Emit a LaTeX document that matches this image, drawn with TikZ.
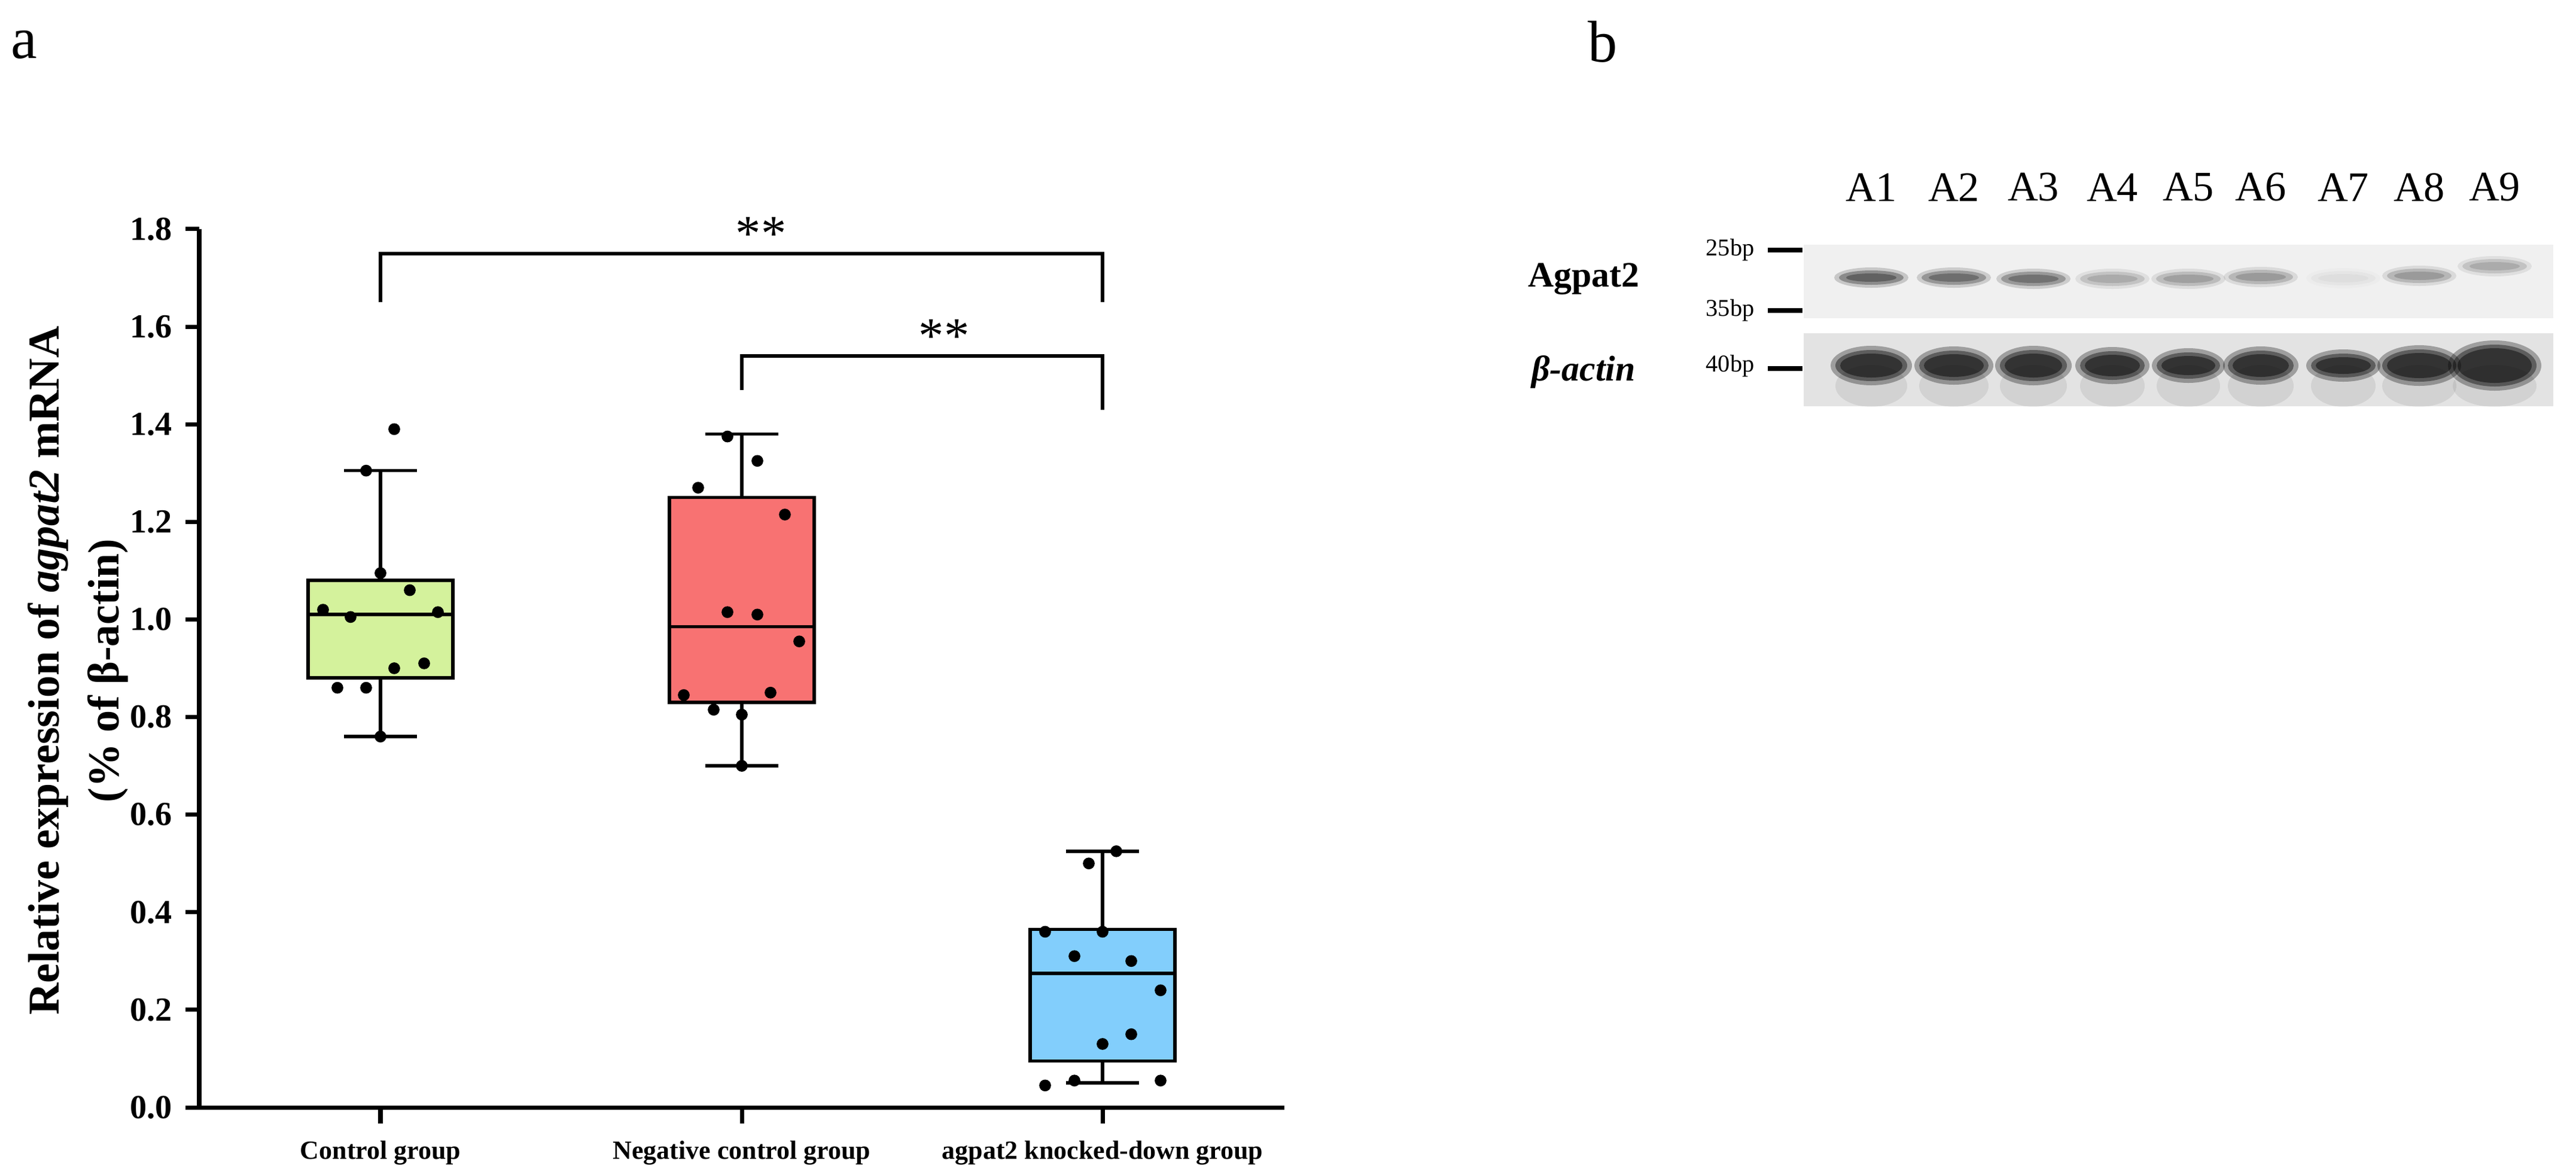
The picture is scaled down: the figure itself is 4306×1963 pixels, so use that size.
\documentclass[tikz,border=0pt]{standalone}
\usepackage{fontspec}
\setmainfont{Liberation Serif}
\definecolor{cg}{HTML}{D4F29C}
\definecolor{cr}{HTML}{F87272}
\definecolor{cb}{HTML}{82CEFC}
\begin{document}
\begin{tikzpicture}[x=0.01cm,y=-0.01cm,
  ax/.style={line width=2pt},
  bx/.style={line width=1.6pt,draw=black},
  dot/.style={circle,fill=black,inner sep=0pt,minimum size=5.6pt},
  tl/.style={anchor=east,font=\bfseries\fontsize{16}{16}\selectfont},
  gl/.style={anchor=north,font=\bfseries\fontsize{12.5}{12.5}\selectfont},
  ln/.style={font=\fontsize{20}{20}\selectfont},
  mk/.style={anchor=east,font=\fontsize{11.5}{11.5}\selectfont}]
\useasboundingbox (0,0) rectangle (4306,1963);
\def\Y#1{{1851-815.6*#1}}
\node[font=\fontsize{28}{28}\selectfont] (la) at (40,75) {a};
\node[font=\fontsize{28}{28}\selectfont] (lb) at (2679,70) {b};
% axes
\coordinate (o) at (333,1851);
\coordinate (top) at (333,383);
\coordinate (xe) at (2147,1851);
\draw[ax] (top) -- (o) -- (xe);
\foreach \v/\t in {0/0.0,0.2/0.2,0.4/0.4,0.6/0.6,0.8/0.8,1.0/1.0,1.2/1.2,1.4/1.4,1.6/1.6,1.8/1.8}{
  \draw[ax] (333,\Y{\v}) -- (310,\Y{\v});
  \node[tl] (t\t) at (300,\Y{\v}) {\t};}
\foreach \x in {636,1240,1843}{\draw[ax] (\x,1851) -- (\x,1878);}
\node[gl] (g1) at (636,1895) {Control group};
\node[gl] (g2) at (1240,1895) {Negative control group};
\node[gl] (g3) at (1843,1895) {agpat2 knocked-down group};
\node[rotate=90,font=\bfseries\fontsize{21}{21}\selectfont] (yl1) at (80,1121) {Relative expression of \textit{agpat2} mRNA};
\node[rotate=90,font=\bfseries\fontsize{21}{21}\selectfont] (yl2) at (180,1121) {(\% of β-actin)};
% boxes
\newcommand\bxp[8]{% x, col, wlo, q1, med, q3, whi
  \draw[bx] (#1,\Y{#3}) -- (#1,\Y{#7});
  \draw[bx] ({#1-61},\Y{#3}) -- ({#1+61},\Y{#3});
  \draw[bx] ({#1-61},\Y{#7}) -- ({#1+61},\Y{#7});
  \draw[bx,fill=#2] ({#1-121},\Y{#4}) rectangle ({#1+121},\Y{#6});
  \draw[bx] ({#1-121},\Y{#5}) -- ({#1+121},\Y{#5});}
\bxp{636}{cg}{0.76}{0.88}{1.01}{1.08}{1.305}{}
\bxp{1240}{cr}{0.70}{0.83}{0.985}{1.25}{1.38}{}
\bxp{1843}{cb}{0.05}{0.095}{0.275}{0.365}{0.525}{}
\foreach \x/\v in {540/1.02,586/1.005,636/1.095,685/1.06,732/1.015,659/0.90,709/0.91,564/0.86,612/0.86,612/1.305,659/1.39,636/0.76,
 1216/1.375,1266/1.325,1167/1.27,1312/1.215,1216/1.015,1266/1.01,1336/0.955,1143/0.845,1288/0.85,1193/0.815,1240/0.805,1240/0.70,
 1866/0.525,1820/0.50,1747/0.36,1843/0.36,1796/0.31,1891/0.30,1940/0.24,1891/0.15,1843/0.13,1747/0.045,1796/0.055,1940/0.055}
 {\node[dot] at (\x,\Y{\v}) {};}
% brackets
\coordinate (b1a) at (636,\Y{1.65}); \coordinate (b1b) at (636,\Y{1.75});
\coordinate (b1c) at (1843,\Y{1.75}); \coordinate (b1d) at (1843,\Y{1.65});
\draw[line width=1.6pt] (b1a) -- (b1b) -- (b1c) -- (b1d);
\node[font=\fontsize{24}{24}\selectfont] (s1) at (1272,\Y{1.79}) {**};
\coordinate (b2a) at (1240,\Y{1.47}); \coordinate (b2b) at (1240,\Y{1.54});
\coordinate (b2c) at (1843,\Y{1.54}); \coordinate (b2d) at (1843,\Y{1.43});
\draw[line width=1.6pt] (b2a) -- (b2b) -- (b2c) -- (b2d);
\node[font=\fontsize{24}{24}\selectfont] (s2) at (1578,\Y{1.58}) {**};
% blot
\fill[gray!12] (3015,409) rectangle (4268,532);
\fill[gray!22] (3015,557) rectangle (4268,679);
\foreach \n/\x in {1/3128,2/3266,3/3399,4/3531,5/3658,6/3779,7/3917,8/4044,9/4170}
  {\node[ln] (A\n) at (\x,313) {A\n};}
\foreach \x/\i/\yy in {3128/0.85/464,3266/0.75/464,3399/0.72/466,3531/0.35/466,3658/0.42/466,3779/0.45/463,3917/0.08/465,4044/0.45/461,4170/0.35/445}{
  \fill[black,opacity=0.2*\i] (\x,\yy) ellipse [x radius=62, y radius=17];
  \fill[black,opacity=0.35*\i] (\x,\yy) ellipse [x radius=54, y radius=12];
  \fill[black,opacity=0.35*\i] (\x,\yy) ellipse [x radius=42, y radius=7];}
\foreach \x/\w/\h in {3128/60/26,3266/58/25,3399/56/26,3531/54/24,3658/53/22,3779/55/25,3917/54/20,4044/62/27,4170/70/35}{
  \fill[black,opacity=0.07] (\x,645) ellipse [x radius=\w, y radius=35];
  \fill[black,opacity=0.3] (\x,611) ellipse [x radius=\w+8, y radius=\h+7];
  \fill[black,opacity=0.4] (\x,611) ellipse [x radius=\w, y radius=\h];
  \fill[black,opacity=0.45] (\x,611) ellipse [x radius=\w-8, y radius=\h-6];}
\coordinate (m1a) at (2955,418); \coordinate (m1b) at (3013,418);
\coordinate (m2a) at (2955,519); \coordinate (m2b) at (3013,519);
\coordinate (m3a) at (2955,616); \coordinate (m3b) at (3013,616);
\draw[line width=2.4pt] (m1a) -- (m1b); \draw[line width=2.4pt] (m2a) -- (m2b); \draw[line width=2.4pt] (m3a) -- (m3b);
\node[mk] (k1) at (2945,418) {25bp};
\node[mk] (k2) at (2945,519) {35bp};
\node[mk] (k3) at (2945,612) {40bp};
\node[font=\bfseries\fontsize{17}{17}\selectfont] (pa) at (2647,466) {Agpat2};
\node[font=\bfseries\itshape\fontsize{17}{17}\selectfont] (pb) at (2647,622) {β-actin};
\end{tikzpicture}
\end{document}
